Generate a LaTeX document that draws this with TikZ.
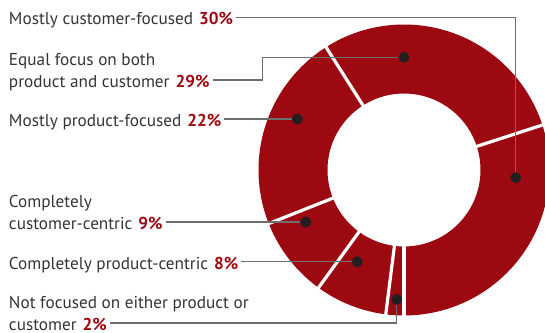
\documentclass[tikz,border=0pt]{standalone}
\usepackage{fontspec}
\setmainfont{PT Sans}
\usetikzlibrary{positioning}
\definecolor{ringred}{RGB}{157,9,17}
\definecolor{labelgray}{RGB}{52,52,52}
\definecolor{leadgray}{RGB}{110,110,110}
\definecolor{dotblack}{RGB}{35,31,32}
\newcommand{\pct}[1]{\hspace{0.35em}\textcolor{ringred}{\textbf{#1}}}

\begin{document}
\begin{tikzpicture}[x=1pt, y=1pt,
					lbl/.style={anchor=west, inner xsep=3pt, inner ysep=0pt, outer sep=0pt, text height=15pt, text depth=0pt, font=\fontsize{17.2}{17.2}\selectfont, text=labelgray},
					dot/.style={circle, fill=dotblack, minimum size=11pt, inner sep=0pt},
					leader/.style={draw=leadgray, line width=1.1pt},
					gap/.style={draw=white, line width=3.2pt}]
					\useasboundingbox (0,0) rectangle (545,332);
					\clip (0,0) rectangle (545,332);
					\coordinate (c) at (404,162);
					% ring
					\foreach \a/\b in {-90/18, 18/122.4, 122.4/201.6, 201.6/234, 234/262.8, 262.8/270}
						\fill[ringred] ([shift={(c)}]\a:145.5) arc[start angle=\a, end angle=\b, radius=145.5] -- ([shift={(c)}]\b:76.5) arc[start angle=\b, end angle=\a, radius=76.5] -- cycle;
					\foreach \a in {18, 122.4, 201.6, 234, 262.8, 270}
						\draw[gap] ([shift={(c)}]\a:70) -- ([shift={(c)}]\a:150);
					
					% labels
					\node[lbl] (l30) at (6,314.7) {Mostly customer-focused\pct{30\%}};
					\node[lbl] (l29) at (6,252) {product and customer\pct{29\%}};
					\node[lbl, above=21.8pt of l29.base west, anchor=base west] (l29a) {Equal focus on both};
					\node[lbl] (l22) at (6,213) {Mostly product-focused\pct{22\%}};
					\node[lbl] (l9) at (6,110) {customer-centric\pct{9\%}};
					\node[lbl, above=21.8pt of l9.base west, anchor=base west] (l9a) {Completely};
					\node[lbl] (l8) at (6,70.3) {Completely product-centric\pct{8\%}};
					\node[lbl] (l2) at (6,9) {customer\pct{2\%}};
					\node[lbl, above=21.8pt of l2.base west, anchor=base west] (l2a) {Not focused on either product or};
					
					% dots
					\node[dot] (d30) at (515.7,154.3) {};
					\node[dot] (d29) at (404,274.7) {};
					\node[dot] (d22) at (297.3,213) {};
					\node[dot] (d9) at (305.7,110) {};
					\node[dot] (d8) at (357.3,70.3) {};
					\node[dot] (d2) at (396.7,32.7) {};
					\coordinate (k29) at (262.3,274.7);
					
					\draw[leader] (d30) |- (l30.east);
					\draw[leader] (d29) -- (k29) |- (l29.east);
					\draw[leader] (d22) -- (l22.east);
					\draw[leader] (d9) -- (l9.east);
					\draw[leader] (d8) -- (l8.east);
					\draw[leader] (d2) |- (l2.east);
				\end{tikzpicture}
\end{document}
